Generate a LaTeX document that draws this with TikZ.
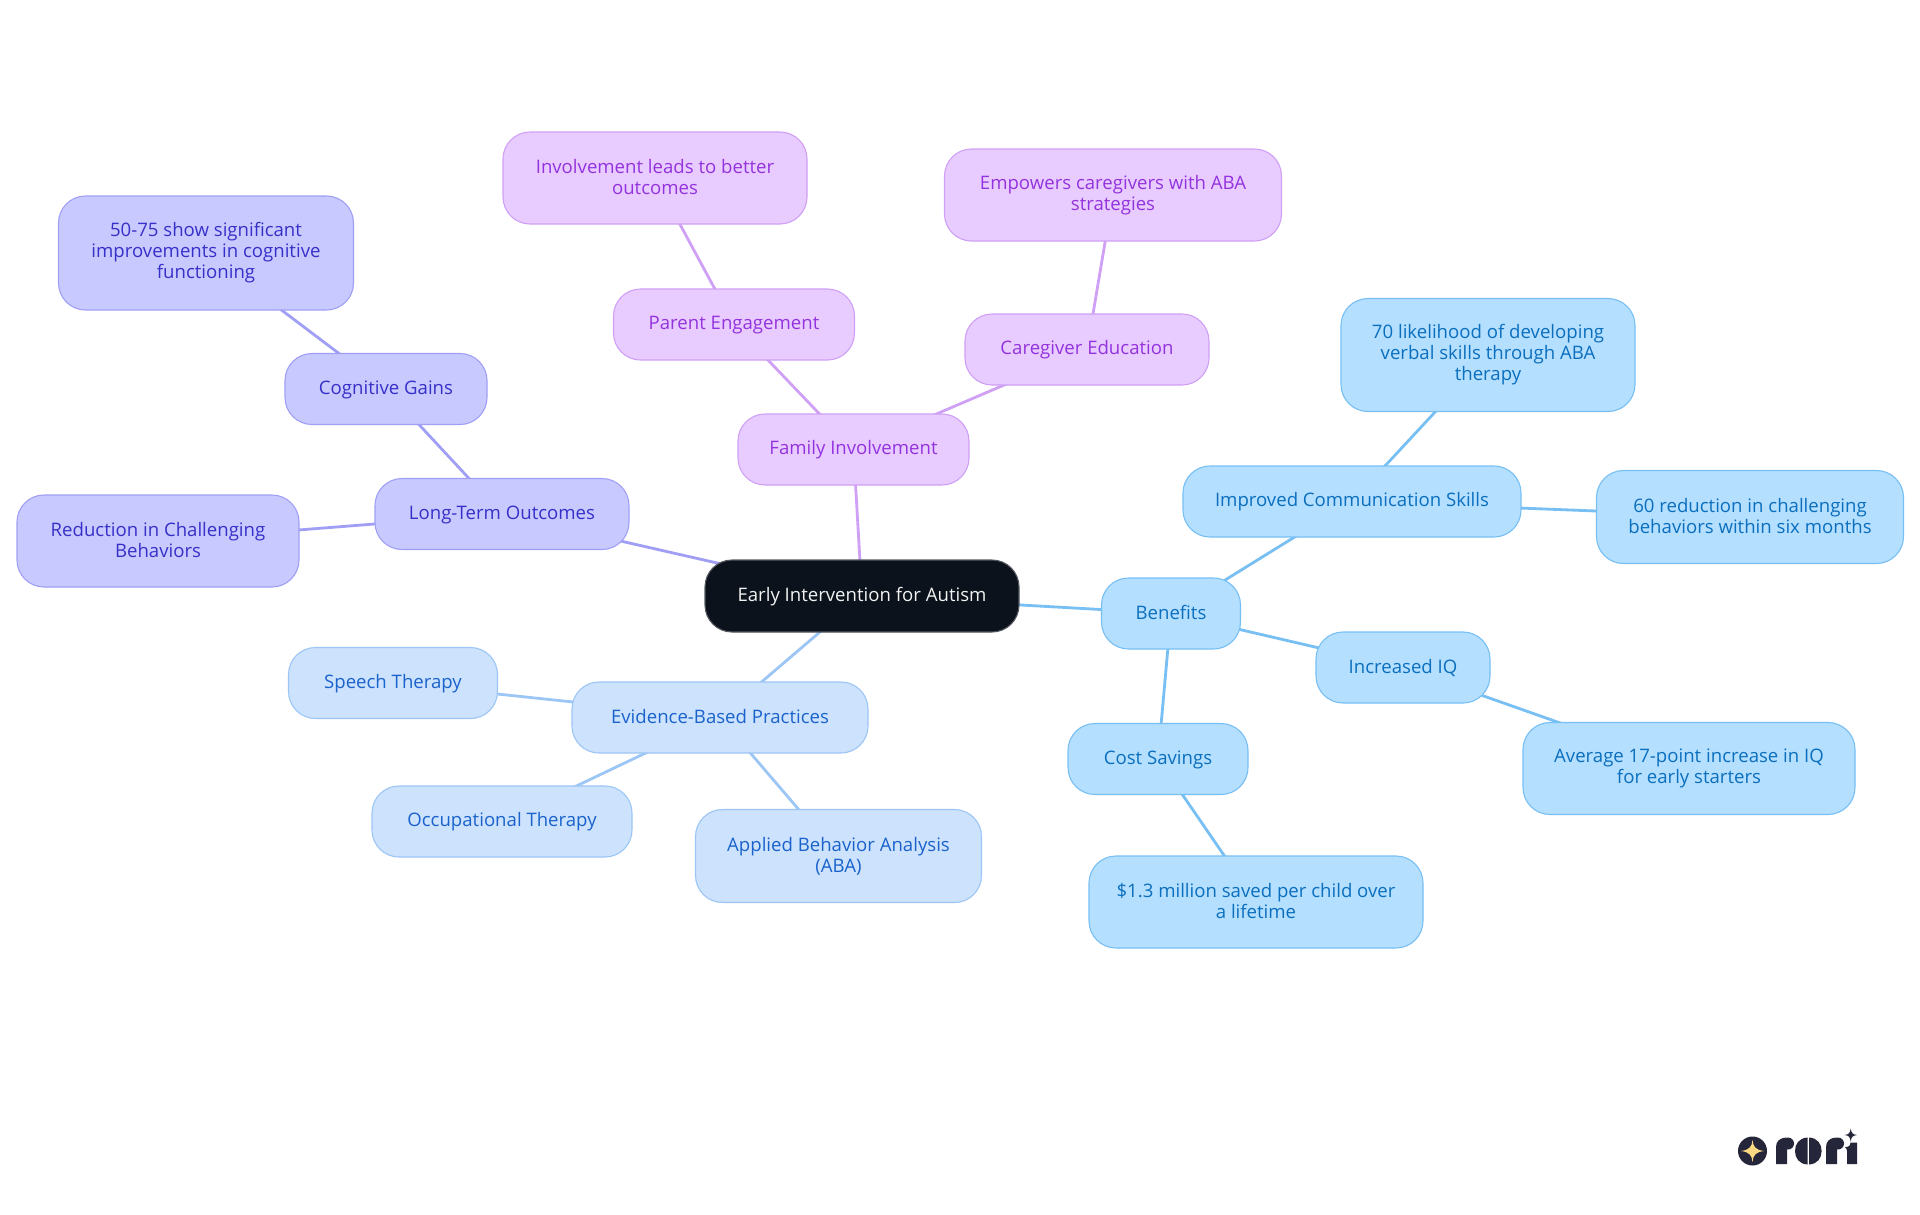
\documentclass[tikz,border=0pt]{standalone}
\usepackage{fontspec}
\setmainfont{Open Sans}
\usetikzlibrary{backgrounds}
\definecolor{rootfill}{HTML}{0B121B}
\definecolor{famfill}{HTML}{E8CBFF}
\definecolor{famline}{HTML}{CFA0F5}
\definecolor{famtext}{HTML}{9333DD}
\definecolor{ltofill}{HTML}{C8CAFF}
\definecolor{ltoline}{HTML}{A09FF5}
\definecolor{ltotext}{HTML}{3730C8}
\definecolor{evifill}{HTML}{CDE2FD}
\definecolor{eviline}{HTML}{9CC6F5}
\definecolor{evitext}{HTML}{1A63CC}
\definecolor{benfill}{HTML}{B4DFFF}
\definecolor{benline}{HTML}{78BFF3}
\definecolor{bentext}{HTML}{0B6FBE}
\definecolor{logodark}{HTML}{26263A}
\definecolor{logostar}{HTML}{FCD983}
\tikzset{
  mapnode/.style={rectangle, rounded corners=27pt, line width=1.1pt, align=center, inner sep=0pt,
    font=\fontsize{18.6}{21}\selectfont,
    execute at begin node={\rule{0pt}{15pt}}, execute at end node={\rule[-3pt]{0pt}{3pt}}},
  rootnode/.style={mapnode, fill=rootfill, draw=rootfill!70!white, text=white!95!black},
  famnode/.style={mapnode, fill=famfill, draw=famline, text=famtext},
  ltonode/.style={mapnode, fill=ltofill, draw=ltoline, text=ltotext},
  evinode/.style={mapnode, fill=evifill, draw=eviline, text=evitext},
  bennode/.style={mapnode, fill=benfill, draw=benline, text=bentext},
  famedge/.style={draw=famline, line width=2.8pt},
  ltoedge/.style={draw=ltoline, line width=2.8pt},
  eviedge/.style={draw=eviline, line width=2.8pt},
  benedge/.style={draw=benline, line width=2.8pt},
}
\begin{document}
\begin{tikzpicture}[x=1pt,y=-1pt]
  \useasboundingbox (0,0) rectangle (1920,1215);

  \node [rootnode, minimum width=314pt, minimum height=72pt] (root) at (862,596) {Early Intervention for Autism};

  \node [famnode, minimum width=231pt, minimum height=71pt] (family) at (853.5,449.5) {Family Involvement};
  \node [famnode, minimum width=241pt, minimum height=71pt] (parent) at (734,324.5) {Parent Engagement};
  \node [famnode, minimum width=304pt, minimum height=92pt] (outcomes) at (655,178) {Involvement leads to better\\outcomes};
  \node [famnode, minimum width=244pt, minimum height=71pt] (caregiver) at (1087,349.5) {Caregiver Education};
  \node [famnode, minimum width=337pt, minimum height=92pt] (empowers) at (1113,195) {Empowers caregivers with ABA\\strategies};

  \node [ltonode, minimum width=254pt, minimum height=71pt] (longterm) at (502,514) {Long-Term Outcomes};
  \node [ltonode, minimum width=202pt, minimum height=71pt] (cognitive) at (386,389) {Cognitive Gains};
  \node [ltonode, minimum width=295pt, minimum height=114pt] (improve) at (206,253) {50-75 show significant\\improvements in cognitive\\functioning};
  \node [ltonode, minimum width=282pt, minimum height=92pt] (challenge) at (158,541) {Reduction in Challenging\\Behaviors};

  \node [evinode, minimum width=296pt, minimum height=71pt] (evidence) at (720,717.5) {Evidence-Based Practices};
  \node [evinode, minimum width=209pt, minimum height=71pt] (speech) at (393,683) {Speech Therapy};
  \node [evinode, minimum width=260pt, minimum height=71pt] (occup) at (502,821.5) {Occupational Therapy};
  \node [evinode, minimum width=286pt, minimum height=93pt] (aba) at (838.5,856) {Applied Behavior Analysis\\(ABA)};

  \node [bennode, minimum width=139pt, minimum height=71pt] (benefits) at (1171,613.5) {Benefits};
  \node [bennode, minimum width=338pt, minimum height=71pt] (comm) at (1352,501.5) {Improved Communication Skills};
  \node [bennode, minimum width=294pt, minimum height=113pt] (verbal) at (1488,355) {70 likelihood of developing\\verbal skills through ABA\\therapy};
  \node [bennode, minimum width=307pt, minimum height=93pt] (behav) at (1750,517) {60 reduction in challenging\\behaviors within six months};
  \node [bennode, minimum width=174pt, minimum height=71pt] (iq) at (1403,667.5) {Increased IQ};
  \node [bennode, minimum width=332pt, minimum height=92pt] (points) at (1689,768.5) {Average 17-point increase in IQ\\for early starters};
  \node [bennode, minimum width=180pt, minimum height=71pt] (cost) at (1158,759) {Cost Savings};
  \node [bennode, minimum width=334pt, minimum height=92pt] (saved) at (1256,902) {\$1.3 million saved per child over\\a lifetime};

  \begin{scope}[on background layer]
    \fill [white] (0,0) rectangle (1920,1215);
    \draw [famedge] (root.center)--(family.center);
    \draw [famedge] (family.center)--(parent.center);
    \draw [famedge] (parent.center)--(outcomes.center);
    \draw [famedge] (family.center)--(caregiver.center);
    \draw [famedge] (caregiver.center)--(empowers.center);
    \draw [ltoedge] (root.center)--(longterm.center);
    \draw [ltoedge] (longterm.center)--(cognitive.center);
    \draw [ltoedge] (cognitive.center)--(improve.center);
    \draw [ltoedge] (longterm.center)--(challenge.center);
    \draw [eviedge] (root.center)--(evidence.center);
    \draw [eviedge] (evidence.center)--(speech.center);
    \draw [eviedge] (evidence.center)--(occup.center);
    \draw [eviedge] (evidence.center)--(aba.center);
    \draw [benedge] (root.center)--(benefits.center);
    \draw [benedge] (benefits.center)--(comm.center);
    \draw [benedge] (comm.center)--(verbal.center);
    \draw [benedge] (comm.center)--(behav.center);
    \draw [benedge] (benefits.center)--(iq.center);
    \draw [benedge] (iq.center)--(points.center);
    \draw [benedge] (benefits.center)--(cost.center);
    \draw [benedge] (cost.center)--(saved.center);
  \end{scope}

  % logo
  \fill [logodark] (1752.5,1151) circle (14.5);
  \fill [logostar] (1741,1151) .. controls (1749,1150) and (1752,1147) .. (1752.5,1140)
    .. controls (1753,1147) and (1756,1150) .. (1764,1151)
    .. controls (1756,1152) and (1753,1155) .. (1752.5,1162)
    .. controls (1752,1155) and (1749,1152) .. (1741,1151) -- cycle;
  \fill [logodark] (1776,1164) -- (1776,1147) .. controls (1776,1141) and (1780,1138) .. (1786,1137.5) .. controls (1783,1141) and (1783,1146) .. (1787,1149) -- (1787,1164) -- cycle;
  \fill [logodark] (1788,1143.5) circle (6);
  \fill [logodark] (1807.6,1137.5) .. controls (1799,1138) and (1795,1144) .. (1795,1151) .. controls (1795,1158) and (1799,1164) .. (1807.6,1164.5) -- cycle;
  \fill [logodark] (1809,1137.5) .. controls (1817.6,1138) and (1821.6,1144) .. (1821.6,1151) .. controls (1821.6,1158) and (1817.6,1164) .. (1809,1164.5) -- cycle;
  \fill [logodark] (1826,1164) -- (1826,1147) .. controls (1826,1141) and (1830,1138) .. (1836,1137.5) .. controls (1833,1141) and (1833,1146) .. (1837,1149) -- (1837,1164) -- cycle;
  \fill [logodark] (1838,1143.5) circle (6);
  \fill [logodark] (1845,1147) .. controls (1849,1147) and (1850,1146) .. (1850.5,1142.5) -- (1857,1142.5) -- (1857,1164) -- (1847,1164) -- (1847,1151) .. controls (1847,1149) and (1846,1148) .. (1845,1147) -- cycle;
  \fill [logodark] (1844.5,1135) .. controls (1849,1134.5) and (1850,1133) .. (1850.7,1128.5)
    .. controls (1851.4,1133) and (1852.5,1134.5) .. (1857,1135)
    .. controls (1852.5,1135.5) and (1851.4,1137) .. (1850.7,1141.5)
    .. controls (1850,1137) and (1849,1135.5) .. (1844.5,1135) -- cycle;
\end{tikzpicture}
\end{document}
